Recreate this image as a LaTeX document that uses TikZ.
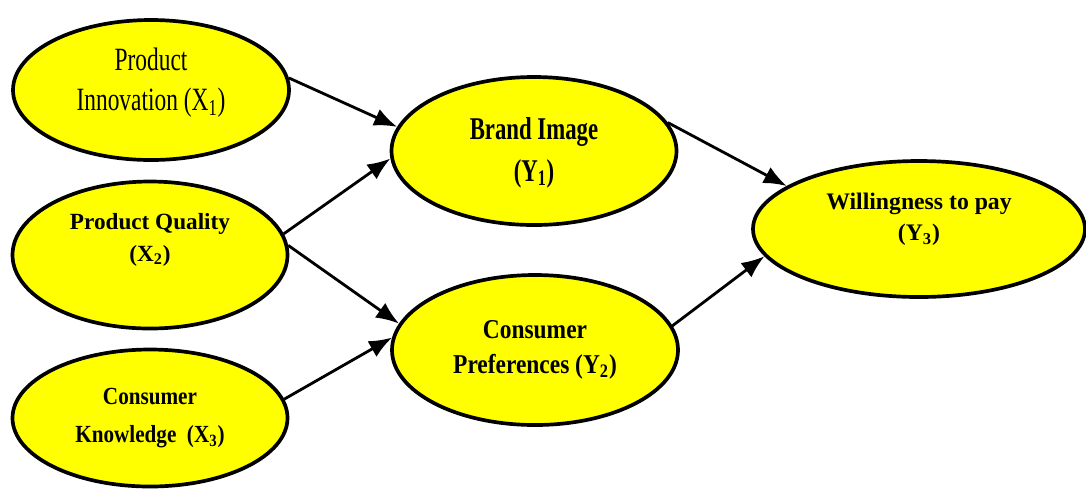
\documentclass[tikz,border=0pt]{standalone}
\usepackage{fontspec}
\setmainfont{Liberation Serif}
\newfontfamily\narrowfont[FakeStretch=0.72]{Liberation Serif}
\newfontfamily\semifont[FakeStretch=0.86]{Liberation Serif}
\usetikzlibrary{shapes.geometric,arrows.meta}
\definecolor{boxyellow}{RGB}{255,255,0}
\tikzset{
	var/.style={ellipse,draw,line width=2.1pt,fill=boxyellow,inner sep=0pt,align=center},
	link/.style={line width=1.6pt,-{Latex[length=4.6mm,width=3.6mm]}}
}
\begin{document}
\begin{tikzpicture}
	\useasboundingbox (0,0) rectangle (21.72,-9.80);
	\node[var,minimum width=5.52cm,minimum height=2.80cm,text depth=12pt,font=\narrowfont\fontsize{18.5}{23}\selectfont] (x1) at (3.02,-1.80) {Product\\Innovation (X\textsubscript{1})};
	\node[var,minimum width=5.50cm,minimum height=2.94cm,text depth=20pt,font=\bfseries\fontsize{13.2}{18}\selectfont] (x2) at (3.00,-5.10) {Product Quality\\(X\textsubscript{2})};
	\node[var,minimum width=5.50cm,minimum height=2.74cm,font=\semifont\bfseries\fontsize{14}{21.5}\selectfont] (x3) at (3.00,-8.36) {Consumer\\Knowledge\ \ (X\textsubscript{3})};
	\node[var,minimum width=5.70cm,minimum height=2.96cm,text depth=2pt,font=\narrowfont\bfseries\fontsize{18}{24}\selectfont] (y1) at (10.68,-3.02) {Brand Image\\(Y\textsubscript{1})};
	\node[var,minimum width=5.72cm,minimum height=3.00cm,font=\semifont\bfseries\fontsize{15.5}{20}\selectfont] (y2) at (10.70,-7.00) {Consumer\\Preferences (Y\textsubscript{2})};
	\node[var,minimum width=6.64cm,minimum height=2.72cm,text depth=14pt,font=\bfseries\fontsize{13.5}{18}\selectfont] (y3) at (18.38,-4.58) {Willingness to pay\\(Y\textsubscript{3})};
	\draw[link] (x1.5) -- (y1.170);
	\draw[link] (x2.9) -- (y1.183);
	\draw[link] (x2.4) -- (y2.169);
	\draw[link] (x3.8) -- (y2.175);
	\draw[link] (y1.12) -- (y3.162);
	\draw[link] (y2.10) -- (y3.190);
\end{tikzpicture}
\end{document}
